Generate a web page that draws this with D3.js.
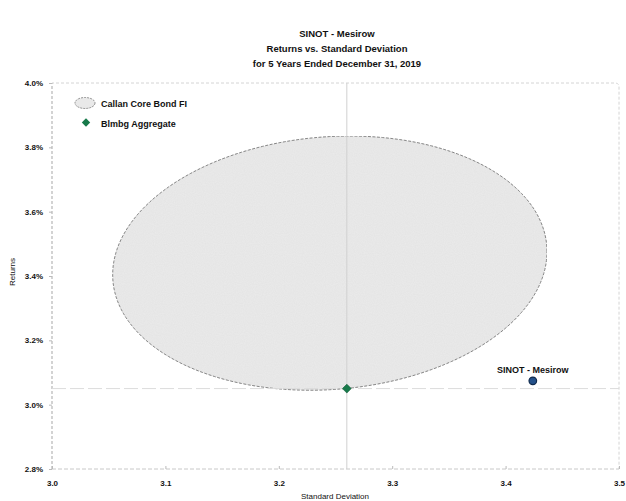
<!DOCTYPE html>
<html>
<head>
<meta charset="utf-8">
<script src="https://cdn.jsdelivr.net/npm/d3@7"></script>
<style>
  html, body { margin: 0; padding: 0; background: #fff; }
  svg { display: block; font-family: "Liberation Sans", Arial, sans-serif; }
</style>
</head>
<body>
<svg id="chart" width="626" height="501"></svg>
<script>
// ---- data ----
const titleLines = ["SINOT - Mesirow", "Returns vs. Standard Deviation", "for 5 Years Ended December 31, 2019"];
const xTicks = [3.0, 3.1, 3.2, 3.3, 3.4, 3.5];
const yTicks = [2.8, 3.0, 3.2, 3.4, 3.6, 3.8, 4.0];
const seriesNames = ["Callan Core Bond FI", "Blmbg Aggregate", "SINOT - Mesirow"];
// universe ellipse (std dev, return): center, half-width, half-height, tilt (return shift at right edge)
const ellipseCenter = [3.245, 3.44];
const ellipseRadii = [0.1915, 0.3935];
const ellipseTilt = 0.036;
// points: [std dev, return]
const benchmark = [3.26, 3.05];
const manager = [3.424, 3.074];

// ---- layout ----
const svg = d3.select("#chart");
const x = d3.scaleLinear().domain([3.0, 3.5]).range([52, 619]);
const y = d3.scaleLinear().domain([2.8, 4.0]).range([469, 83]);

// title
svg.append("g").selectAll("text").data(titleLines).join("text")
  .attr("x", 337).attr("y", (d, i) => 37 + i * 15)
  .attr("text-anchor", "middle").attr("font-size", 9.5).attr("font-weight", "bold")
  .attr("fill", "#111").text(d => d);

// grain filter for ellipse fill
const defs = svg.append("defs");
const filt = defs.append("filter").attr("id", "grain").attr("x", 0).attr("y", 0).attr("width", 1).attr("height", 1);
filt.append("feTurbulence").attr("type", "fractalNoise").attr("baseFrequency", 0.9).attr("numOctaves", 1).attr("seed", 3).attr("result", "n");
filt.append("feColorMatrix").attr("in", "n").attr("type", "matrix")
  .attr("values", "0 0 0 0 0.55  0 0 0 0 0.55  0 0 0 0 0.55  0 0 0 0.22 0").attr("result", "g");
filt.append("feComposite").attr("in", "g").attr("in2", "SourceGraphic").attr("operator", "in").attr("result", "gc");
filt.append("feMerge").call(m => { m.append("feMergeNode").attr("in", "SourceGraphic"); m.append("feMergeNode").attr("in", "gc"); });

// frame (dotted light)
const frame = svg.append("g");
frame.append("path")
  .attr("d", `M${x(3.0)},${y(2.8)} L${x(3.0)},${y(4.0)} L${x(3.5) - 4},${y(4.0)} Q${x(3.5)},${y(4.0)} ${x(3.5)},${y(4.0) + 4} L${x(3.5)},${y(2.8)}`)
  .attr("fill", "none").attr("stroke", "#d4d4d4").attr("stroke-width", 1).attr("stroke-dasharray", "3,2");
frame.append("line").attr("x1", x(3.0)).attr("x2", x(3.5)).attr("y1", y(2.8)).attr("y2", y(2.8))
  .attr("stroke", "#c8c8c8").attr("stroke-dasharray", "4,2");
frame.append("line").attr("x1", x(3.0)).attr("x2", x(3.0)).attr("y1", y(2.8)).attr("y2", y(4.0))
  .attr("stroke", "#bdbdbd").attr("stroke-dasharray", "3,2");

// ellipse
const ts = d3.range(0, 361, 2).map(d => d * Math.PI / 180);
const ellPts = ts.map(t => [
  x(ellipseCenter[0] + ellipseRadii[0] * Math.cos(t)),
  y(ellipseCenter[1] + ellipseRadii[1] * Math.sin(t) + ellipseTilt * Math.cos(t))
]);
svg.append("path").attr("d", d3.line()(ellPts) + "Z")
  .attr("fill", "#ebebeb").attr("stroke", "#707070").attr("stroke-width", 0.9)
  .attr("stroke-dasharray", "3,1.5").attr("filter", "url(#grain)");

// crosshair lines at benchmark
svg.append("line").attr("x1", x(benchmark[0])).attr("x2", x(benchmark[0])).attr("y1", y(4.0)).attr("y2", y(2.8))
  .attr("stroke", "#d0d0d0").attr("stroke-width", 1);
svg.append("line").attr("x1", x(3.0)).attr("x2", x(3.5)).attr("y1", y(benchmark[1])).attr("y2", y(benchmark[1]))
  .attr("stroke", "#dcdcdc").attr("stroke-width", 1).attr("stroke-dasharray", "14,4");

// axes
const xAxis = svg.append("g").attr("transform", `translate(0,${y(2.8)})`)
  .call(d3.axisBottom(x).tickValues(xTicks).tickFormat(d3.format(".1f")).tickSize(-3).tickPadding(11));
const yAxis = svg.append("g").attr("transform", `translate(${x(3.0)},0)`)
  .call(d3.axisLeft(y).tickValues(yTicks).tickFormat(d => d.toFixed(1) + "%").tickSize(3).tickPadding(6));
[xAxis, yAxis].forEach(a => {
  a.select(".domain").remove();
  a.selectAll(".tick line").attr("stroke", "#bbb");
  a.selectAll(".tick text").attr("font-size", 8).attr("font-weight", "bold").attr("fill", "#111")
    .attr("font-family", "'Liberation Sans', Arial, sans-serif");
});
yAxis.selectAll(".tick text").attr("dy", "0.32em");

// axis titles
svg.append("text").attr("x", 335).attr("y", 499).attr("text-anchor", "middle")
  .attr("font-size", 8).attr("fill", "#111").text("Standard Deviation");
svg.append("text").attr("transform", `translate(15,${(y(2.8) + y(4.0)) / 2 - 4}) rotate(-90)`)
  .attr("text-anchor", "middle").attr("font-size", 8).attr("fill", "#111").text("Returns");

// points
svg.append("path").attr("d", d3.symbol(d3.symbolDiamond2, 50)())
  .attr("transform", `translate(${x(benchmark[0])},${y(benchmark[1])})`)
  .attr("fill", "#17794a").attr("stroke", "#0f5a35").attr("stroke-width", 0.6);
svg.append("circle").attr("cx", x(manager[0])).attr("cy", y(manager[1])).attr("r", 3.8)
  .attr("fill", "#24518a").attr("stroke", "#102a4c").attr("stroke-width", 1.2);
svg.append("text").attr("x", x(manager[0])).attr("y", y(manager[1]) - 8)
  .attr("text-anchor", "middle").attr("font-size", 9).attr("font-weight", "bold").attr("fill", "#111")
  .text(seriesNames[2]);

// legend
const lg = svg.append("g");
lg.append("ellipse").attr("cx", 85).attr("cy", 103).attr("rx", 10).attr("ry", 5.5)
  .attr("fill", "#e9e9e9").attr("stroke", "#777").attr("stroke-width", 0.8).attr("stroke-dasharray", "2,1");
lg.append("path").attr("d", d3.symbol(d3.symbolDiamond2, 45)())
  .attr("transform", "translate(86,122.5)").attr("fill", "#17794a");
lg.selectAll("text").data(seriesNames.slice(0, 2)).join("text")
  .attr("x", 101).attr("y", (d, i) => 106.5 + i * 20)
  .attr("font-size", 9).attr("font-weight", "bold").attr("fill", "#111").text(d => d);
</script>
</body>
</html>
